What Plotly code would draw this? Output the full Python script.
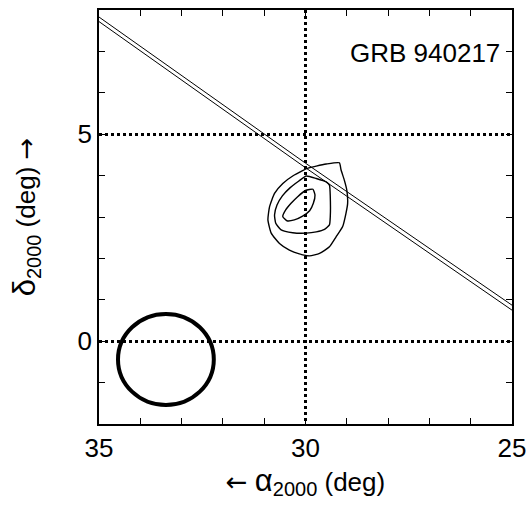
import plotly.graph_objects as go

# --- data ---
ann_ra = [35.0, 30.0, 25.0]
ann_dec_upper = [7.83, 4.30, 0.87]
ann_dec_lower = [7.72, 4.19, 0.75]

c_outer_ra = [29.94, 29.74, 29.50, 29.18, 29.14, 29.06, 29.00, 28.98, 29.02, 29.10, 29.26, 29.42,
              29.66, 29.90, 30.15, 30.39, 30.63, 30.83, 30.91, 30.87, 30.75, 30.55, 30.31, 30.07, 29.94]
c_outer_dec = [4.18, 4.23, 4.28, 4.31, 4.14, 3.89, 3.65, 3.33, 3.09, 2.77, 2.52, 2.28,
               2.12, 2.06, 2.11, 2.20, 2.36, 2.61, 2.93, 3.25, 3.57, 3.81, 3.99, 4.12, 4.18]

c_mid_ra = [29.98, 29.74, 29.50, 29.42, 29.40, 29.40, 29.42, 29.54, 29.74, 29.98, 30.31, 30.59,
            30.72, 30.75, 30.69, 30.56, 30.37, 30.16, 29.98]
c_mid_dec = [3.99, 3.93, 3.85, 3.77, 3.49, 3.01, 2.81, 2.70, 2.64, 2.61, 2.62, 2.69,
             2.85, 3.05, 3.29, 3.51, 3.71, 3.87, 3.99]

c_in_ra = [29.82, 29.77, 29.81, 29.90, 30.07, 30.27, 30.45, 30.55, 30.48, 30.35, 30.19, 30.00, 29.82]
c_in_dec = [3.67, 3.53, 3.33, 3.15, 3.02, 2.93, 2.91, 3.01, 3.17, 3.33, 3.49, 3.64, 3.67]

circle_ra = [32.22, 34.54]
circle_dec = [-1.54, 0.66]

x_range = [35, 25]
y_range = [-2, 8]
x_ticks = [35, 30, 25]
y_ticks = [0, 5]
x_small_ticks = [25, 26, 27, 28, 29, 30, 31, 32, 33, 34, 35]
y_small_ticks = [-2, -1, 0, 1, 2, 3, 4, 5, 6, 7, 8]
label = "GRB 940217"

fig = go.Figure()
for ys in (ann_dec_upper, ann_dec_lower):
    fig.add_trace(go.Scatter(x=ann_ra, y=ys, mode="lines",
                             line=dict(color="black", width=1), hoverinfo="skip"))
for xs, ys in ((c_outer_ra, c_outer_dec), (c_mid_ra, c_mid_dec), (c_in_ra, c_in_dec)):
    fig.add_trace(go.Scatter(x=xs, y=ys, mode="lines",
                             line=dict(color="black", width=1.4, shape="spline", smoothing=0.5),
                             hoverinfo="skip"))

# invisible trace that anchors the mirrored top/right tick axes
fig.add_trace(go.Scatter(x=[x_range[0]], y=[y_range[0]], xaxis="x2", yaxis="y2",
                         mode="markers", marker=dict(opacity=0), hoverinfo="skip"))

fig.add_shape(type="circle", xref="x", yref="y",
              x0=circle_ra[0], x1=circle_ra[1], y0=circle_dec[0], y1=circle_dec[1],
              line=dict(color="black", width=4))

fig.add_annotation(text=label, xref="paper", yref="paper", x=0.975, y=0.895,
                   xanchor="right", yanchor="middle", showarrow=False,
                   font=dict(size=26, color="black"))

axis_common = dict(
    showline=True, linecolor="black", linewidth=1.5,
    ticks="inside", ticklen=6, tickcolor="black", tickwidth=1,
    zeroline=False, automargin=False,
    tickfont=dict(size=26, color="black"),
)
grid = dict(showgrid=True, gridcolor="black", gridwidth=2.5, griddash="dot")


def minor(vals):
    return dict(tickmode="array", tickvals=vals, ticks="inside", ticklen=6,
                tickcolor="black", tickwidth=1, showgrid=False)


arrow_l = "<span style='font-family:DejaVu Sans;font-size:26px'>←</span>"
arrow_r = "<span style='font-family:DejaVu Sans;font-size:26px'>→</span>"
sub = "<sub><span style='font-size:20px'>2000</span></sub>"

fig.update_layout(
    xaxis=dict(range=x_range, tickmode="array", tickvals=x_ticks, ticktext=[str(v) for v in x_ticks],
               minor=minor(x_small_ticks),
               title=dict(text=arrow_l + " <span style='font-size:31px'>α</span>" + sub + " (deg)",
                          font=dict(size=26, color="black"), standoff=6),
               **axis_common, **grid),
    yaxis=dict(range=y_range, tickmode="array", tickvals=y_ticks, ticktext=[str(v) for v in y_ticks],
               minor=minor(y_small_ticks),
               title=dict(text="<span style='font-size:31px'>δ</span>" + sub + " (deg) " + arrow_r,
                          font=dict(size=26, color="black"), standoff=34),
               **axis_common, **grid),
    xaxis2=dict(range=x_range, overlaying="x", side="top", anchor="y2", showticklabels=False,
                tickmode="array", tickvals=x_small_ticks, showgrid=False, **axis_common),
    yaxis2=dict(range=y_range, overlaying="y", side="right", anchor="x2", showticklabels=False,
                tickmode="array", tickvals=y_small_ticks, showgrid=False, **axis_common),
    width=528, height=508,
    margin=dict(l=99, r=16, t=10, b=84),
    paper_bgcolor="white", plot_bgcolor="white",
    showlegend=False,
    font=dict(family="Liberation Sans, Arial, sans-serif", color="black"),
)

fig.write_html("out.html", config={"displayModeBar": False},
               post_script="document.body.style.margin='0';")
